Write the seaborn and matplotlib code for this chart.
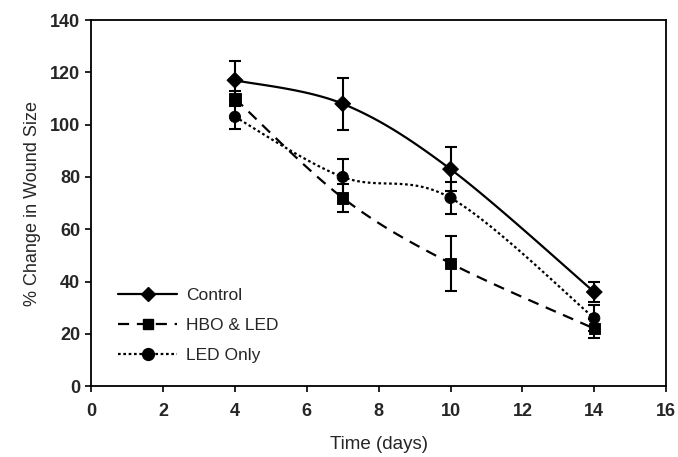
import numpy as np
import pandas as pd
import matplotlib
matplotlib.use("Agg")
import matplotlib.pyplot as plt
from matplotlib.lines import Line2D
import seaborn as sns

days = [4, 7, 10, 14]
series_names = ["Control", "HBO & LED", "LED Only"]
control = [117, 108, 83, 36]
control_err = [7.5, 10, 8.5, 4]
hbo_led = [110, 72, 47, 22]
hbo_led_err = [3, 5.5, 10.5, 3.5]
led_only = [103, 80, 72, 26]
led_only_err = [4.5, 7, 6, 5]

x_ticks = [0, 2, 4, 6, 8, 10, 12, 14, 16]
y_ticks = [0, 20, 40, 60, 80, 100, 120, 140]

sns.set_style("white")
plt.rcParams["font.family"] = ["Liberation Sans", "DejaVu Sans"]

df = pd.DataFrame({
    "day": days * 3,
    "value": control + hbo_led + led_only,
    "err": control_err + hbo_led_err + led_only_err,
    "series": sum([[n] * len(days) for n in series_names], []),
})

fig = plt.figure(figsize=(6.78, 4.57), dpi=100)
ax = fig.add_axes([0.1345, 0.155, 0.848, 0.801])

styles = {
    "Control": dict(ls="-", marker="D", ms=7.5),
    "HBO & LED": dict(ls=(0, (5, 3.5)), marker="s", ms=7.5),
    "LED Only": dict(ls=(0, (1.2, 1.2)), marker="o", ms=8.5),
}


def smooth(xs, ys, n=40, k=6.0):
    # Excel-style smoothed line: Bezier segments with Catmull-Rom tangents
    pts = np.column_stack([xs, ys]).astype(float)
    ext = np.vstack([pts[0], pts, pts[-1]])
    out = []
    for i in range(len(pts) - 1):
        p0, p1, p2, p3 = ext[i], ext[i + 1], ext[i + 2], ext[i + 3]
        c1 = p1 + (p2 - p0) / k
        c2 = p2 - (p3 - p1) / k
        t = np.linspace(0, 1, n)[:, None]
        seg = ((1 - t) ** 3) * p1 + 3 * ((1 - t) ** 2) * t * c1 + 3 * (1 - t) * t ** 2 * c2 + t ** 3 * p2
        out.append(seg if i == 0 else seg[1:])
    s = np.vstack(out)
    return s[:, 0], s[:, 1]


for name in series_names:
    sub = df[df["series"] == name]
    st = styles[name]
    sx, sy = smooth(sub["day"].values, sub["value"].values)
    ax.plot(sx, sy, color="black", lw=1.6, ls=st["ls"], zorder=2)
    ax.errorbar(sub["day"], sub["value"], yerr=sub["err"], fmt="none",
                ecolor="black", elinewidth=1.5, capsize=4.5, capthick=1.5, zorder=3)

sns.scatterplot(data=df, x="day", y="value", style="series",
                markers={"Control": "D", "HBO & LED": "s", "LED Only": "o"},
                color="black", edgecolor="black", s=65, legend=False, ax=ax, zorder=4)

ax.set_xlim(0, 16)
ax.set_ylim(0, 140)
ax.set_xticks(x_ticks)
ax.set_yticks(y_ticks)
ax.tick_params(axis="both", direction="out", length=4, width=1.2, color="black",
               labelsize=13, bottom=True, left=True)
ax.tick_params(axis="x", pad=8)
ax.tick_params(axis="y", pad=4)
for lab in ax.get_xticklabels() + ax.get_yticklabels():
    lab.set_fontweight("bold")
for sp in ax.spines.values():
    sp.set_color("black")
    sp.set_linewidth(1.3)
    sp.set_visible(True)

ax.set_xlabel("Time (days)", fontsize=13.5, labelpad=12)
ax.set_ylabel("% Change in Wound Size", fontsize=13, labelpad=6)

handles = [Line2D([0], [0], color="black", lw=1.6, ls=styles[n]["ls"], marker=styles[n]["marker"],
                  ms=styles[n]["ms"], mfc="black", mec="black") for n in series_names]
ax.legend(handles, series_names, loc="lower left", bbox_to_anchor=(0.02, 0.02), frameon=False,
          fontsize=12.5, handlelength=3.4, labelspacing=0.85, handletextpad=0.5)

fig.savefig("out.png", dpi=100)
